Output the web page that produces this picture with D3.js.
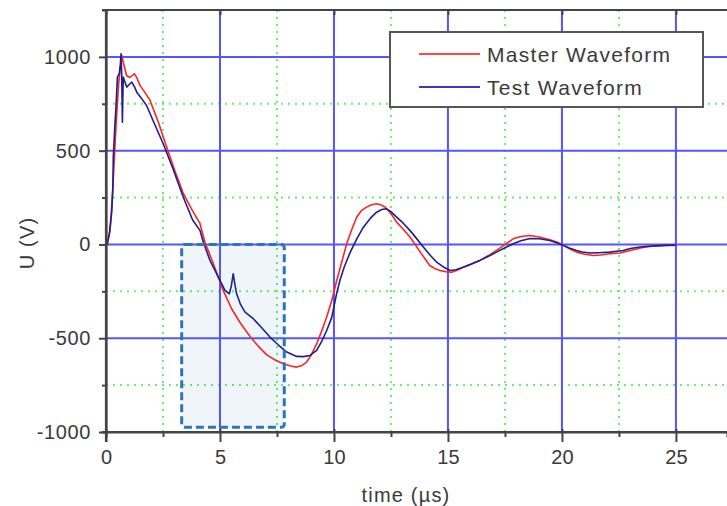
<!DOCTYPE html>
<html><head><meta charset="utf-8">
<script src="https://cdn.jsdelivr.net/npm/d3@7"></script>
<style>
html,body{margin:0;padding:0;background:#fff;}
svg{display:block;}
text{font-family:"Liberation Sans",Arial,sans-serif;fill:#3a3a3a;}
</style></head>
<body>
<svg id="chart" width="727" height="506"></svg>
<script>
// ---- data ----
const xMajorTicks = [0, 5, 10, 15, 20, 25];
const xMinorTicks = [2.5, 7.5, 12.5, 17.5, 22.5];
const yMajorTicks = [-1000, -500, 0, 500, 1000];
const yMinorTicks = [-750, -250, 250, 750];
const seriesNames = ["Master Waveform", "Test Waveform"];
const xLabel = "time (\u00b5s)";
const yLabel = "U (V)";
// highlighted region [t0, t1, v0, v1]
const highlight = [3.32, 7.82, -975, 0];

const masterWave = [
[0,0],[0.1,30],[0.18,75],[0.3,300],[0.44,635],[0.55,850],[0.69,1008],[0.8,950],[0.9,901],[1.05,890],
[1.24,910],[1.35,890],[1.49,848],[1.7,812],[1.93,768],[2.3,650],[2.66,519],[3.0,400],[3.39,272],[3.75,190],
[4.12,112],[4.34,12],[4.7,-100],[5.14,-245],[5.51,-343],[5.9,-420],[6.32,-491],[6.7,-545],[7.05,-589],[7.4,-615],
[7.78,-636],[8.1,-648],[8.36,-654],[8.6,-645],[8.8,-627],[9.0,-590],[9.24,-530],[9.45,-465],[9.68,-387],[9.9,-300],
[10.12,-192],[10.35,-90],[10.56,5],[10.78,80],[11.0,146],[11.2,180],[11.43,199],[11.65,212],[11.87,217],[12.05,212],
[12.24,199],[12.5,165],[12.75,119],[13.05,80],[13.33,40],[13.55,2],[13.77,-38],[14.0,-78],[14.2,-112],[14.45,-130],
[14.65,-139],[14.9,-145],[15.16,-148],[15.4,-138],[15.67,-121],[16.0,-105],[16.4,-85],[16.8,-58],[17.13,-32],[17.45,-5],
[17.86,30],[18.2,42],[18.6,48],[19.0,40],[19.47,25],[19.8,12],[20.06,-5],[20.35,-25],[20.64,-41],[21.0,-52],
[21.37,-59],[21.7,-56],[22.1,-50],[22.54,-46],[23.13,-28],[23.5,-18],[23.86,-11],[24.2,-8],[24.6,-5],[25.0,-5]
];
const testWave = [
[0,0],[0.06,0],[0.15,60],[0.25,172],[0.3,300],[0.32,465],[0.39,635],[0.45,760],[0.5,892],[0.58,910],
[0.63,960],[0.66,1017],[0.69,900],[0.72,652],[0.74,800],[0.76,892],[0.85,860],[0.91,839],[1.0,850],[1.13,866],
[1.25,840],[1.35,812],[1.55,780],[1.78,741],[2.1,650],[2.51,537],[2.95,400],[3.39,252],[3.8,130],[4.12,75],
[4.27,12],[4.56,-85],[5.0,-192],[5.22,-245],[5.41,-263],[5.5,-220],[5.58,-156],[5.65,-210],[5.73,-263],[5.9,-320],
[6.1,-361],[6.46,-396],[6.8,-440],[7.19,-494],[7.55,-535],[7.93,-574],[8.36,-597],[8.65,-598],[8.95,-592],[9.24,-565],
[9.45,-520],[9.68,-459],[9.9,-390],[10.12,-260],[10.26,-192],[10.45,-120],[10.7,-45],[11.0,30],[11.29,92],[11.6,140],
[11.87,172],[12.1,186],[12.3,190],[12.5,175],[12.75,146],[13.05,112],[13.33,75],[13.6,35],[13.92,-14],[14.2,-55],
[14.5,-94],[14.8,-120],[15.09,-139],[15.35,-135],[15.67,-121],[16.0,-105],[16.4,-85],[16.8,-62],[17.13,-41],[17.5,-18],
[17.86,4],[18.2,20],[18.6,32],[19.0,30],[19.47,21],[19.8,8],[20.06,-5],[20.35,-20],[20.64,-32],[20.9,-40],
[21.23,-46],[21.6,-44],[22.1,-41],[22.68,-32],[23.0,-22],[23.42,-14],[23.9,-8],[24.45,-5],[25.0,-3]
];
const seriesColors = ["#ff2424", "#1e1e8e"];
const legendColors = ["#ff4a4a", "#3a3ab8"];

// ---- layout ----
const svg = d3.select("#chart");
const x = d3.scaleLinear().domain([0, 27.24]).range([106, 727]);
const y = d3.scaleLinear().domain([-1000, 1250]).range([432, 10]);
const [x0, x1] = x.range();
const [yb, yt] = y.range();

// minor grid (green dotted)
const g = svg.append("g");
g.selectAll("line.mx").data(xMinorTicks).join("line")
  .attr("x1", d => x(d)).attr("x2", d => x(d)).attr("y1", yt).attr("y2", yb)
  .attr("stroke", "#6af06a").attr("stroke-width", 2).attr("stroke-dasharray", "2,5");
g.selectAll("line.my").data(yMinorTicks).join("line")
  .attr("x1", x0).attr("x2", x1).attr("y1", d => y(d)).attr("y2", d => y(d))
  .attr("stroke", "#6af06a").attr("stroke-width", 2).attr("stroke-dasharray", "2,5");
// major grid (blue)
g.selectAll("line.Mx").data(xMajorTicks.filter(d => d > 0)).join("line")
  .attr("x1", d => x(d)).attr("x2", d => x(d)).attr("y1", yt).attr("y2", yb)
  .attr("stroke", "#5555ff").attr("stroke-width", 2);
const g2 = svg.append("g");
g2.selectAll("line").data(yMajorTicks.filter(d => d > -1000)).join("line")
  .attr("x1", x0).attr("x2", x1).attr("y1", d => y(d)).attr("y2", d => y(d))
  .attr("stroke", "#5555ff").attr("stroke-width", 2);

// data lines
const line = d3.line().x(d => x(d[0])).y(d => y(d[1]));
[masterWave, testWave].forEach((s, i) => {
  svg.append("path").datum(s).attr("d", line)
    .attr("fill", "none").attr("stroke", seriesColors[i]).attr("stroke-width", 1.6)
    .attr("stroke-linejoin", "round");
});

// highlight rectangle
svg.append("rect")
  .attr("x", x(highlight[0])).attr("y", y(highlight[3]))
  .attr("width", x(highlight[1]) - x(highlight[0]))
  .attr("height", y(highlight[2]) - y(highlight[3]))
  .attr("rx", 3)
  .attr("fill", "rgba(46,117,182,0.07)")
  .attr("stroke", "#2e75b6").attr("stroke-width", 3).attr("stroke-dasharray", "8,4");

// axes
const axisColor = "#444";
const fmt = d => String(d);
const xAxis = svg.append("g").attr("transform", `translate(0,${yb})`)
  .call(d3.axisBottom(x).tickValues(xMajorTicks).tickFormat(fmt).tickSize(10).tickPadding(8));
const xAxisMinor = svg.append("g").attr("transform", `translate(0,${yb})`)
  .call(d3.axisBottom(x).tickValues(xMinorTicks).tickSize(5).tickFormat(""));
const yAxis = svg.append("g").attr("transform", `translate(${x0},0)`)
  .call(d3.axisLeft(y).tickValues(yMajorTicks).tickFormat(fmt).tickSize(7).tickPadding(6));
const yAxisMinor = svg.append("g").attr("transform", `translate(${x0},0)`)
  .call(d3.axisLeft(y).tickValues(yMinorTicks).tickSize(4).tickFormat(""));
const xTop = svg.append("g").attr("transform", `translate(0,${yt})`)
  .call(d3.axisBottom(x).tickValues(xMajorTicks).tickSize(5).tickFormat(""));
[xAxis, xAxisMinor, yAxis, yAxisMinor, xTop].forEach(a => {
  a.select(".domain").attr("stroke", axisColor).attr("stroke-width", 2.2);
  a.selectAll(".tick line").attr("stroke", axisColor).attr("stroke-width", 2);
  a.selectAll("text").attr("font-size", 20).attr("fill", "#3a3a3a")
    .attr("font-family", "Liberation Sans, Arial, sans-serif");
});
xAxis.select(".domain").attr("d", `M${x0 - 4},0H${x1}`);
xTop.select(".domain").attr("d", `M${x0 - 4},0H${x1}`);
xAxis.selectAll(".tick line").attr("y1", -3);
yAxis.selectAll("text").attr("dx", "-0.1em").style("letter-spacing", "0.6px");
yAxis.select(".domain").attr("d", `M0,${yt}V${yb + 10}`);

// axis titles
svg.append("text").attr("x", 406).attr("y", 502).attr("text-anchor", "middle")
  .attr("font-size", 20).style("letter-spacing", "1.2px").text(xLabel);
svg.append("text").attr("transform", "translate(34,243) rotate(-90)")
  .attr("text-anchor", "middle").attr("font-size", 20).style("letter-spacing", "1.2px").text(yLabel);

// legend
const lg = svg.append("g");
lg.append("rect").attr("x", 390).attr("y", 32).attr("width", 313).attr("height", 75)
  .attr("fill", "#fff").attr("stroke", "#555").attr("stroke-width", 2);
seriesNames.forEach((n, i) => {
  const ly = 54 + i * 33;
  lg.append("line").attr("x1", 419).attr("x2", 480).attr("y1", ly).attr("y2", ly)
    .attr("stroke", legendColors[i]).attr("stroke-width", 2);
  lg.append("text").attr("x", 487).attr("y", ly + 7.5).attr("font-size", 21)
    .style("letter-spacing", "1.3px").attr("fill", "#2a2a3a").text(n);
});
</script>
</body></html>
